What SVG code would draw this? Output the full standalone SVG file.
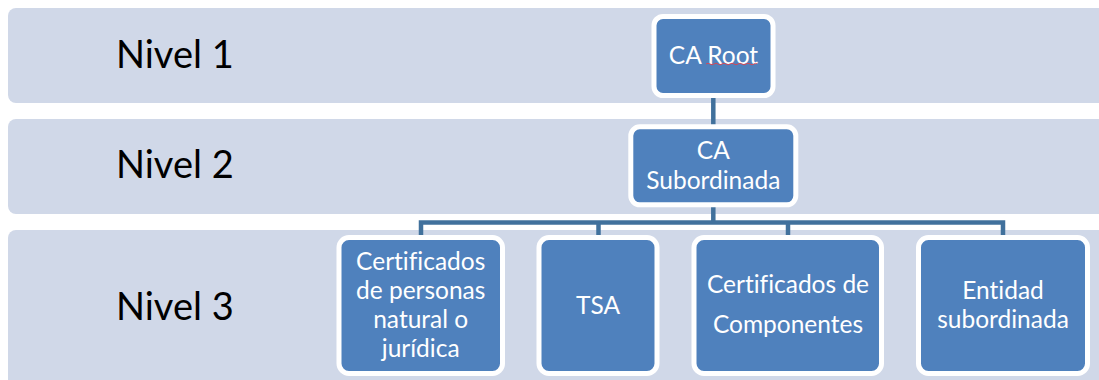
<svg xmlns="http://www.w3.org/2000/svg" width="1099" height="380" viewBox="0 0 1099 380">
<style>
.band{fill:#D0D8E8}
.lvl{font-family:Lato,"Liberation Sans",sans-serif;font-size:38px;fill:#000;font-variant-ligatures:none}
.node rect{fill:#4F81BD;stroke:#FFFFFF;stroke-width:5}
.node text{font-family:Lato,"Liberation Sans",sans-serif;font-size:24.5px;fill:#FFFFFF;text-anchor:middle;font-variant-ligatures:none}
.conn{fill:none;stroke:#41719C;stroke-width:4.5;stroke-linejoin:miter}
</style>
<rect width="1099" height="380" fill="#FFFFFF"/>
<g id="bands">
<rect class="band" x="8" y="8" width="1100" height="95" rx="8"/>
<rect class="band" x="8" y="119" width="1100" height="95" rx="8"/>
<rect class="band" x="8" y="230" width="1100" height="160" rx="8"/>
<text class="lvl" x="116" y="68">Nivel 1</text>
<text class="lvl" x="116" y="178">Nivel 2</text>
<text class="lvl" x="116" y="320">Nivel 3</text>
</g>
<g id="connectors">
<path class="conn" d="M713.3,98 V127"/>
<path class="conn" d="M713.3,207 V222.5"/>
<path class="conn" d="M421,237 V222.5 H1003 V237"/>
<path class="conn" d="M598.5,222.5 V237"/>
<path class="conn" d="M788,222.5 V237"/>
</g>
<g id="ca-root" class="node">
<rect x="654" y="16.5" width="119" height="79" rx="9"/>
<text x="713.5" y="64">CA Root</text>
<path d="M706,64 q2,-1.5 4,0 t4,0 t4,0 t4,0 t4,0 t4,0 t4,0 t4,0 t4,0 t4,0 t4,0 t4,0 t3,0" fill="none" stroke="#D24A5A" stroke-width="1"/>
</g>
<g id="ca-subordinada" class="node">
<rect x="630.8" y="126.8" width="165" height="78" rx="9"/>
<text x="713.3" y="159">CA</text>
<text x="713.3" y="189">Subordinada</text>
</g>
<g id="cert-personas" class="node">
<rect x="339" y="237.5" width="163.5" height="136" rx="10"/>
<text x="420.7" y="270">Certificados</text>
<text x="420.7" y="299">de personas</text>
<text x="420.7" y="328">natural o</text>
<text x="420.7" y="357">jurídica</text>
</g>
<g id="tsa" class="node">
<rect x="539" y="237.5" width="118" height="136" rx="10"/>
<text x="598" y="314">TSA</text>
</g>
<g id="cert-componentes" class="node">
<rect x="694" y="237.5" width="187.5" height="136" rx="10"/>
<text x="788" y="293">Certificados de</text>
<text x="788" y="333">Componentes</text>
</g>
<g id="entidad" class="node">
<rect x="918.5" y="237.5" width="169" height="136" rx="10"/>
<text x="1003" y="299">Entidad</text>
<text x="1003" y="328">subordinada</text>
</g>
</svg>
